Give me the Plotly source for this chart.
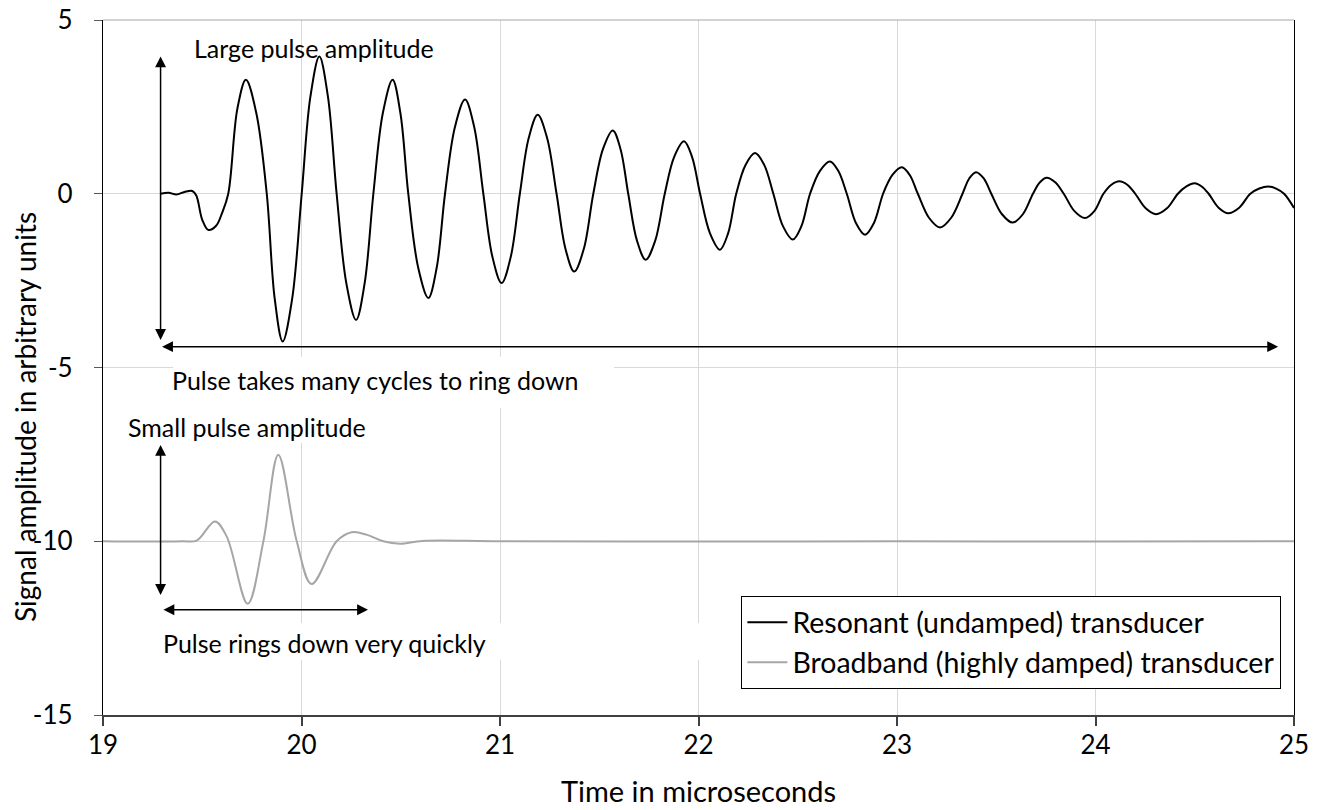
import plotly.graph_objects as go

# ---------------- data ----------------
res_x = [19.29, 19.33, 19.37, 19.41, 19.45, 19.47, 19.50, 19.53, 19.57, 19.60,
         19.631, 19.677, 19.72, 19.772, 19.825, 19.865, 19.905, 19.953, 20.001, 20.045,
         20.09, 20.133, 20.177, 20.226, 20.275, 20.318, 20.362, 20.41, 20.459, 20.498,
         20.538, 20.588, 20.639, 20.681, 20.723, 20.773, 20.824, 20.87, 20.916, 20.962,
         21.008, 21.054, 21.10, 21.145, 21.19, 21.237, 21.285, 21.33, 21.374, 21.422,
         21.47, 21.519, 21.568, 21.607, 21.646, 21.69, 21.734, 21.782, 21.83, 21.878,
         21.927, 21.967, 22.008, 22.058, 22.108, 22.149, 22.19, 22.237, 22.285, 22.331,
         22.377, 22.426, 22.475, 22.518, 22.562, 22.612, 22.662, 22.704, 22.747, 22.793,
         22.839, 22.884, 22.93, 22.977, 23.024, 23.064, 23.105, 23.161, 23.217, 23.273,
         23.33, 23.364, 23.398, 23.437, 23.475, 23.529, 23.583, 23.634, 23.685, 23.72,
         23.754, 23.797, 23.84, 23.894, 23.947, 23.994, 24.04, 24.08, 24.12, 24.16,
         24.20, 24.253, 24.305, 24.36, 24.415, 24.458, 24.50, 24.535, 24.57, 24.62,
         24.669, 24.724, 24.78, 24.825, 24.87, 24.91, 24.95, 25.0]
res_y = [0.00, 0.03, -0.02, 0.05, 0.08, -0.05, -0.75, -1.04, -0.92, -0.55,
         0.0, 2.45, 3.28, 2.33, 0.0, -3.02, -4.25, -3.02, 0.0, 2.80,
         3.95, 2.80, 0.0, -2.58, -3.63, -2.58, 0.0, 2.33, 3.28, 2.33,
         0.0, -2.13, -3.0, -2.13, 0.0, 1.92, 2.71, 1.92, 0.0, -1.82,
         -2.57, -1.82, 0.0, 1.61, 2.27, 1.61, 0.0, -1.59, -2.24, -1.59,
         0.0, 1.29, 1.82, 1.29, 0.0, -1.35, -1.90, -1.35, 0.0, 1.07,
         1.51, 1.07, 0.0, -1.14, -1.61, -1.14, 0.0, 0.83, 1.17, 0.83,
         0.0, -0.94, -1.32, -0.94, 0.0, 0.66, 0.93, 0.66, 0.0, -0.84,
         -1.18, -0.84, 0.0, 0.54, 0.76, 0.54, 0.0, -0.69, -0.97, -0.69,
         0.0, 0.44, 0.62, 0.44, 0.0, -0.59, -0.83, -0.59, 0.0, 0.33,
         0.46, 0.33, 0.0, -0.50, -0.70, -0.50, 0.0, 0.26, 0.36, 0.26,
         0.0, -0.42, -0.59, -0.42, 0.0, 0.21, 0.30, 0.21, 0.0, -0.40,
         -0.56, -0.40, 0.0, 0.15, 0.21, 0.15, 0.0, -0.41]

bb_x = [19.0, 19.2, 19.4, 19.472, 19.564, 19.623, 19.729, 19.808, 19.883, 19.976,
        20.051, 20.177, 20.253, 20.328, 20.412, 20.496, 20.61, 21.0, 22.0, 23.0,
        24.0, 25.0]
bb_y = [-10.0, -10.01, -10.0, -9.98, -9.43, -9.86, -11.80, -10.0, -7.51, -10.0,
        -11.23, -10.0, -9.74, -9.81, -10.0, -10.07, -9.99, -10.0, -10.01, -10.0,
        -10.01, -10.0]

series_names = ["Resonant (undamped) transducer", "Broadband (highly damped) transducer"]
x_tick_vals = [19, 20, 21, 22, 23, 24, 25]
x_tick_text = ["19", "20", "21", "22", "23", "24", "25"]
y_tick_vals = [5, 0, -5, -10, -15]
y_tick_text = ["5", "0", "-5", "-10", "-15"]

FONT = "Lato"

fig = go.Figure()
fig.add_trace(go.Scatter(x=res_x, y=res_y, mode="lines", name=series_names[0],
                         line=dict(color="black", width=2, shape="spline", smoothing=1.0)))
fig.add_trace(go.Scatter(x=bb_x, y=bb_y, mode="lines", name=series_names[1],
                         line=dict(color="#a6a6a6", width=2, shape="spline", smoothing=1.0)))

# white text-box backgrounds that hide gridlines (below the traces)
boxes = [
    (19.353, 21.574, -4.69, -6.16),
    (19.111, 20.395, -6.10, -7.17),
    (19.302, 22.068, -12.35, -13.41),
]
for x0, x1, y0, y1 in boxes:
    fig.add_shape(type="rect", xref="x", yref="y", x0=x0, x1=x1, y0=y0, y1=y1,
                  fillcolor="white", line=dict(width=0), layer="between")

# top frame line
fig.add_shape(type="line", xref="paper", yref="paper", x0=0, x1=1, y0=1, y1=1,
              line=dict(color="#a6a6a6", width=1))

# double-headed arrows
arrows = [
    (19.29, 3.95, 19.29, -4.25),
    (24.92, -4.40, 19.29, -4.40),
    (19.29, -7.23, 19.29, -11.59),
    (20.335, -11.97, 19.297, -11.97),
]
for x, y, ax, ay in arrows:
    fig.add_annotation(x=x, y=y, ax=ax, ay=ay, xref="x", yref="y", axref="x", ayref="y",
                       text="", showarrow=True, arrowside="end+start",
                       arrowhead=2, startarrowhead=2, arrowsize=1.45, startarrowsize=1.45,
                       arrowwidth=1.5, arrowcolor="black", standoff=0, startstandoff=0)

labels = [
    ("Large pulse amplitude", 20.065, 4.20),
    ("Pulse takes many cycles to ring down", 20.375, -5.36),
    ("Small pulse amplitude", 19.723, -6.70),
    ("Pulse rings down very quickly", 20.118, -12.94),
]
for t, x, y in labels:
    fig.add_annotation(x=x, y=y, xref="x", yref="y", text=t, showarrow=False,
                       font=dict(family=FONT, size=25, color="black"),
                       xanchor="center", yanchor="middle")

# axis titles
fig.add_annotation(text="Signal amplitude in arbitrary units", xref="paper", yref="paper",
                   x=-0.0655, y=0.4288, textangle=-90, showarrow=False,
                   xanchor="center", yanchor="middle",
                   font=dict(family=FONT, size=28, color="black"))
fig.add_annotation(text="Time in microseconds", xref="paper", yref="paper",
                   x=0.5004, y=-0.108, showarrow=False, xanchor="center", yanchor="middle",
                   font=dict(family=FONT, size=29, color="black"))

fig.update_layout(
    width=1322, height=810,
    margin=dict(l=103, r=28, t=20, b=95),
    plot_bgcolor="white", paper_bgcolor="white",
    font=dict(family=FONT, color="black"),
    showlegend=True,
    legend=dict(x=0.536, y=0.171, xanchor="left", yanchor="top",
                bgcolor="white", bordercolor="black", borderwidth=1,
                font=dict(family=FONT, size=28.5, color="black"),
                itemwidth=40, tracegroupgap=0),
    xaxis=dict(range=[19, 25], tickvals=x_tick_vals, ticktext=x_tick_text,
               showgrid=True, gridcolor="#d9d9d9", gridwidth=1, zeroline=False,
               showline=True, linecolor="#404040", linewidth=2, automargin=False,
               ticks="outside", ticklen=9, tickcolor="#404040", tickwidth=1.5,
               tickfont=dict(family=FONT, size=26, color="black"),
               ticklabelstandoff=-3),
    yaxis=dict(range=[-15, 5], tickvals=y_tick_vals, ticktext=y_tick_text,
               showgrid=True, gridcolor="#d9d9d9", gridwidth=1, zeroline=False,
               showline=True, linecolor="black", linewidth=1.3, mirror=True, automargin=False,
               ticks="outside", ticklen=8, tickcolor="#595959", tickwidth=1.3,
               tickfont=dict(family=FONT, size=26, color="black"),
               ticklabelstandoff=16),
)

fig.write_html("out.html", config={"displayModeBar": False},
               post_script="document.body.style.margin='0px';")
